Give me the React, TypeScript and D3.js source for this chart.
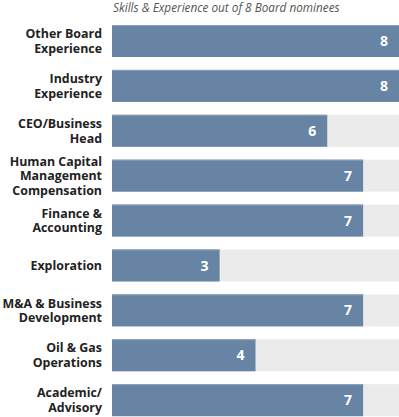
import React from "react";
import * as d3 from "d3";

const categories: string[][] = [
  ["Other Board", "Experience"],
  ["Industry", "Experience"],
  ["CEO/Business", "Head"],
  ["Human Capital", "Management", "Compensation"],
  ["Finance &", "Accounting"],
  ["Exploration"],
  ["M&A & Business", "Development"],
  ["Oil & Gas", "Operations"],
  ["Academic/", "Advisory"],
];
const values: number[] = [8, 8, 6, 7, 7, 3, 7, 4, 7];
const maxValue = 8;
const title = "Skills & Experience out of 8 Board nominees";

const W = 399;
const H = 417;

export default function App() {
  const keys = categories.map((c) => c.join(" "));
  const x = d3.scaleLinear().domain([0, maxValue]).range([112, 399]);
  const y = d3
    .scaleBand<string>()
    .domain(keys)
    .range([25, 416.2])
    .paddingInner(0.287)
    .paddingOuter(0);
  const bw = y.bandwidth();
  const lh = 14.6;
  const font = "'Open Sans', 'Noto Sans', sans-serif";

  return (
    <svg
      width={W}
      height={H}
      style={{ position: "absolute", left: 0, top: 0, display: "block" }}
    >
      <text
        x={113}
        y={12}
        fontFamily={font}
        fontStyle="italic"
        fontSize={11.75}
        fill="#555"
      >
        {title}
      </text>
      {keys.map((k, i) => {
        const y0 = y(k)!;
        const lines = categories[i];
        const cy = y0 + bw / 2;
        const startY = cy - ((lines.length - 1) * lh) / 2;
        return (
          <g key={k}>
            <rect x={x(0)} y={y0} width={x(maxValue) - x(0)} height={bw} fill="#ebebeb" />
            <rect x={x(0)} y={y0} width={x(values[i]) - x(0)} height={bw} fill="#6884a4" />
            <line
              x1={x(0)}
              x2={x(values[i])}
              y1={y0 + 0.5}
              y2={y0 + 0.5}
              stroke="#8aa0ba"
              strokeWidth={1}
            />
            <text
              x={x(values[i]) - 11}
              y={cy}
              dy="0.36em"
              textAnchor="end"
              fontFamily={font}
              fontWeight="bold"
              fontSize={14}
              fill="#fff"
            >
              {values[i]}
            </text>
            {lines.map((l, j) => (
              <text
                key={j}
                x={102}
                y={startY + j * lh}
                dy="0.36em"
                textAnchor="end"
                fontFamily={font}
                fontWeight="bold"
                fontSize={12.4}
                fill="#222"
              >
                {l}
              </text>
            ))}
          </g>
        );
      })}
    </svg>
  );
}
